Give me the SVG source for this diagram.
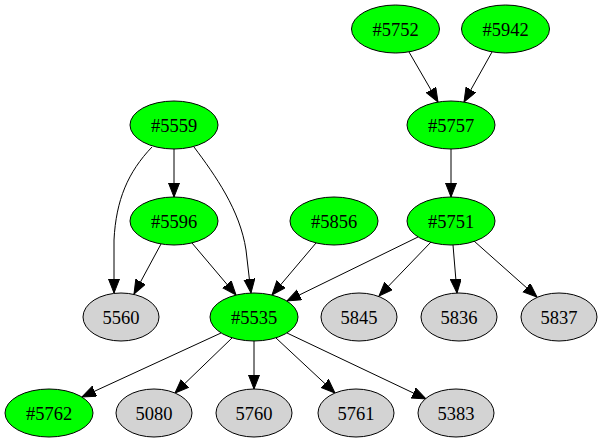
<svg xmlns="http://www.w3.org/2000/svg" width="603" height="443" viewBox="0 0 603 443">
<style>
.g ellipse{fill:#00ff00;stroke:#000;stroke-width:1}
.y ellipse{fill:#d3d3d3;stroke:#000;stroke-width:1}
text{font-family:"Liberation Serif","Times New Roman",serif;font-size:18.5px;text-anchor:middle;fill:#000}
#edges path{fill:none;stroke:#000;stroke-width:1;marker-end:url(#arr)}
</style>
<defs>
<marker id="arr" markerUnits="userSpaceOnUse" markerWidth="15" markerHeight="12" refX="14" refY="5.5" orient="auto" viewBox="0 0 15 12">
<path d="M0,0 L14,5.5 L0,11 z" fill="#000" stroke="#000" stroke-width="1"/>
</marker>
</defs>
<rect width="603" height="443" fill="#fff"/>
<g id="edges">
<path d="M409,52 L438,102"/>
<path d="M492,52 L464,102"/>
<path d="M451,149 L451,197"/>
<path d="M174,149 L174,197"/>
<path d="M152,147 C128,172 116,200 114,240 L114,293"/>
<path d="M194,147 C215,175 240,210 246,250 L251,293"/>
<path d="M161,244 L134,294"/>
<path d="M192,243 L236,295"/>
<path d="M316,243 L272,295"/>
<path d="M418,237 L287,301"/>
<path d="M431,242 L379,296"/>
<path d="M453,245 L457,293"/>
<path d="M474,241 L537,297"/>
<path d="M221,333 L82,397"/>
<path d="M232,338 L175,393"/>
<path d="M254,341 L254,389"/>
<path d="M276,338 L335,393"/>
<path d="M287,333 L426,399"/>
</g>
<g id="n5752" class="g"><ellipse cx="395.5" cy="29" rx="44" ry="24"/><text x="395.5" y="35.5">#5752</text></g>
<g id="n5942" class="g"><ellipse cx="505.5" cy="29" rx="44" ry="24"/><text x="505.5" y="35.5">#5942</text></g>
<g id="n5757" class="g"><ellipse cx="451" cy="125" rx="44" ry="24"/><text x="451" y="131.5">#5757</text></g>
<g id="n5559" class="g"><ellipse cx="174" cy="125" rx="44" ry="24"/><text x="174" y="131.5">#5559</text></g>
<g id="n5596" class="g"><ellipse cx="174" cy="221" rx="44" ry="24"/><text x="174" y="227.5">#5596</text></g>
<g id="n5856" class="g"><ellipse cx="334" cy="221" rx="44" ry="24"/><text x="334" y="227.5">#5856</text></g>
<g id="n5751" class="g"><ellipse cx="451" cy="221" rx="44" ry="24"/><text x="451" y="227.5">#5751</text></g>
<g id="n5560" class="y"><ellipse cx="121" cy="317" rx="38" ry="24"/><text x="121" y="323.5">5560</text></g>
<g id="n5535" class="g"><ellipse cx="254" cy="317" rx="44" ry="24"/><text x="254" y="323.5">#5535</text></g>
<g id="n5845" class="y"><ellipse cx="359" cy="317" rx="38" ry="24"/><text x="359" y="323.5">5845</text></g>
<g id="n5836" class="y"><ellipse cx="459" cy="317" rx="38" ry="24"/><text x="459" y="323.5">5836</text></g>
<g id="n5837" class="y"><ellipse cx="559" cy="317" rx="38" ry="24"/><text x="559" y="323.5">5837</text></g>
<g id="n5762" class="g"><ellipse cx="49" cy="413" rx="44" ry="24"/><text x="49" y="419.5">#5762</text></g>
<g id="n5080" class="y"><ellipse cx="154" cy="413" rx="38" ry="24"/><text x="154" y="419.5">5080</text></g>
<g id="n5760" class="y"><ellipse cx="254" cy="413" rx="38" ry="24"/><text x="254" y="419.5">5760</text></g>
<g id="n5761" class="y"><ellipse cx="356" cy="413" rx="38" ry="24"/><text x="356" y="419.5">5761</text></g>
<g id="n5383" class="y"><ellipse cx="456" cy="413" rx="38" ry="24"/><text x="456" y="419.5">5383</text></g>
</svg>
